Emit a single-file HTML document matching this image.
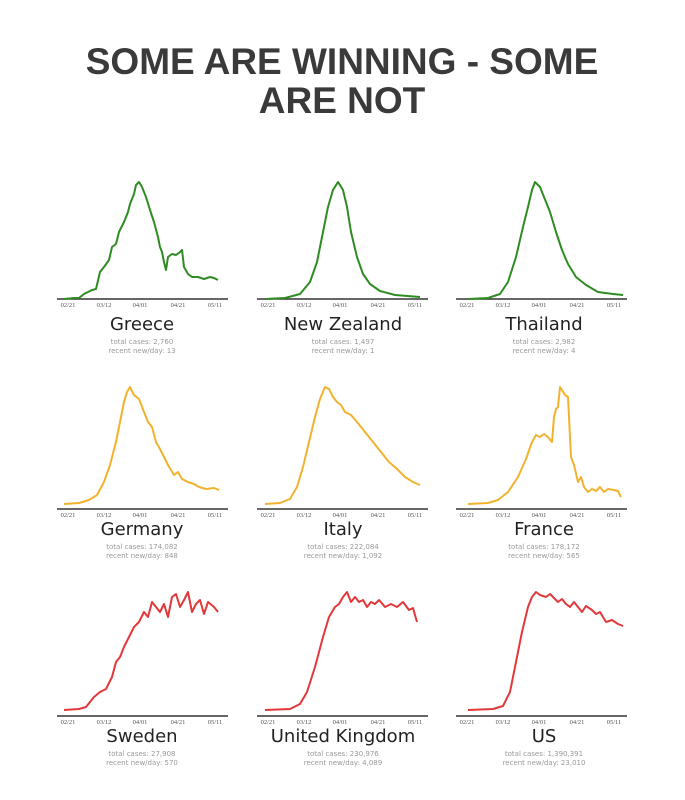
<!DOCTYPE html>
<html><head><meta charset="utf-8"><style>
html,body{margin:0;padding:0;background:#fff;width:685px;height:800px;overflow:hidden}
svg{display:block}
.t{font-family:"Liberation Sans",sans-serif;font-weight:bold;fill:#3a3a3a;font-size:37px;text-anchor:middle}
.n{font-family:"DejaVu Sans","Liberation Sans",sans-serif;fill:#222;font-size:18px;text-anchor:middle}
.s{font-family:"DejaVu Sans","Liberation Sans",sans-serif;fill:#999;font-size:7px;text-anchor:middle}
.k{font-family:"Liberation Serif",serif;fill:#555;font-size:6.5px;text-anchor:middle}
.g{fill:none;stroke:#2f8c22;stroke-width:2;stroke-linejoin:round}
.o{fill:none;stroke:#f1b22f;stroke-width:2;stroke-linejoin:round}
.r{fill:none;stroke:#e3383a;stroke-width:2;stroke-linejoin:round}
</style></head><body>
<svg width="685" height="800" viewBox="0 0 685 800">
<text class="t" x="342" y="74">SOME ARE WINNING - SOME</text>
<text class="t" x="342" y="113">ARE NOT</text>

<defs>
<g id="ax">
<line x0="0" x1="171" y1="0" y2="0" stroke="#333" stroke-width="1.5"/>
<text class="k" x="11" y="8">02/21</text><text class="k" x="47" y="8">03/12</text><text class="k" x="83" y="8">04/01</text><text class="k" x="121" y="8">04/21</text><text class="k" x="158" y="8">05/11</text>
</g>
</defs>

<!-- Row 1 -->
<use href="#ax" x="57" y="299"/><use href="#ax" x="257" y="299"/><use href="#ax" x="456" y="299"/>
<polyline class="g" transform="translate(64,182)" points="0,117 10,116 15,116 20,112 28,108 32,107 36,90 40,85 45,78 48,65 52,62 55,50 60,40 64,30 66,22 70,12 72,3 75,0 78,5 82,15 86,28 90,40 94,55 96,65 98,70 100,80 102,88 104,75 108,72 112,73 116,70 118,68 120,85 124,92 128,95 134,95 140,97 146,95 150,96 154,98"/>
<polyline class="g" transform="translate(265,182)" points="0,117 20,116 35,112 45,100 52,80 58,50 63,25 68,8 73,0 78,8 82,25 86,50 92,75 98,92 105,102 115,109 130,113 155,115"/>
<polyline class="g" transform="translate(468,182)" points="0,117 20,116 32,112 40,100 48,75 55,45 60,25 64,8 67,0 72,5 76,15 82,30 88,50 94,68 100,82 108,95 118,103 130,110 145,112 155,113"/>
<text class="n" x="142" y="330">Greece</text><text class="s" x="142" y="344">total cases: 2,760</text><text class="s" x="142" y="353">recent new/day: 13</text>
<text class="n" x="343" y="330">New Zealand</text><text class="s" x="343" y="344">total cases: 1,497</text><text class="s" x="343" y="353">recent new/day: 1</text>
<text class="n" x="544" y="330">Thailand</text><text class="s" x="544" y="344">total cases: 2,982</text><text class="s" x="544" y="353">recent new/day: 4</text>

<!-- Row 2 -->
<use href="#ax" x="57" y="509"/><use href="#ax" x="257" y="509"/><use href="#ax" x="456" y="509"/>
<polyline class="o" transform="translate(64,387)" points="0,117 15,116 25,113 33,108 40,95 46,78 52,55 56,35 60,15 63,5 66,0 70,8 75,12 80,25 84,35 88,40 92,55 96,62 100,70 104,78 110,88 114,85 118,92 124,95 130,97 135,100 142,102 150,101 155,103"/>
<polyline class="o" transform="translate(265,387)" points="0,117 15,116 25,112 32,100 38,80 44,55 50,30 55,12 60,0 64,2 68,10 72,15 76,18 80,25 86,28 92,35 100,45 108,55 116,65 124,75 132,82 140,90 148,95 155,98"/>
<polyline class="o" transform="translate(468,387)" points="0,117 20,116 30,113 40,105 50,90 58,72 64,55 68,48 72,50 76,47 80,50 84,55 86,30 88,22 90,20 92,0 94,3 97,8 100,10 103,70 106,78 110,95 113,90 116,100 120,105 124,102 128,104 132,100 136,105 140,102 146,103 150,104 153,110"/>
<text class="n" x="142" y="535">Germany</text><text class="s" x="142" y="549">total cases: 174,082</text><text class="s" x="142" y="558">recent new/day: 848</text>
<text class="n" x="343" y="535">Italy</text><text class="s" x="343" y="549">total cases: 222,084</text><text class="s" x="343" y="558">recent new/day: 1,092</text>
<text class="n" x="544" y="535">France</text><text class="s" x="544" y="549">total cases: 178,172</text><text class="s" x="544" y="558">recent new/day: 565</text>

<!-- Row 3 -->
<use href="#ax" x="57" y="716"/><use href="#ax" x="257" y="716"/><use href="#ax" x="456" y="716"/>
<polyline class="r" transform="translate(64,592)" points="0,118 15,117 22,115 30,105 36,100 42,97 48,85 52,70 56,65 60,55 65,45 70,35 75,30 80,20 84,25 88,10 92,15 96,20 100,12 104,25 108,5 112,2 116,15 120,8 124,0 128,20 132,12 136,8 140,22 144,10 150,15 154,20"/>
<polyline class="r" transform="translate(265,592)" points="0,118 25,117 35,112 42,100 50,75 58,45 64,25 70,15 74,12 78,5 82,0 86,10 90,5 94,10 98,8 102,15 106,10 110,12 114,8 120,15 126,12 132,15 138,10 144,18 148,16 152,30"/>
<polyline class="r" transform="translate(468,592)" points="0,118 25,117 35,114 42,100 48,70 54,40 60,15 64,5 68,0 72,3 78,5 82,2 86,6 90,10 94,7 98,12 102,15 106,10 110,15 114,20 118,14 124,18 128,22 132,20 138,30 144,28 150,32 155,34"/>
<text class="n" x="142" y="742">Sweden</text><text class="s" x="142" y="756">total cases: 27,908</text><text class="s" x="142" y="765">recent new/day: 570</text>
<text class="n" x="343" y="742">United Kingdom</text><text class="s" x="343" y="756">total cases: 230,976</text><text class="s" x="343" y="765">recent new/day: 4,089</text>
<text class="n" x="544" y="742">US</text><text class="s" x="544" y="756">total cases: 1,390,391</text><text class="s" x="544" y="765">recent new/day: 23,010</text>
</svg>
</body></html>
